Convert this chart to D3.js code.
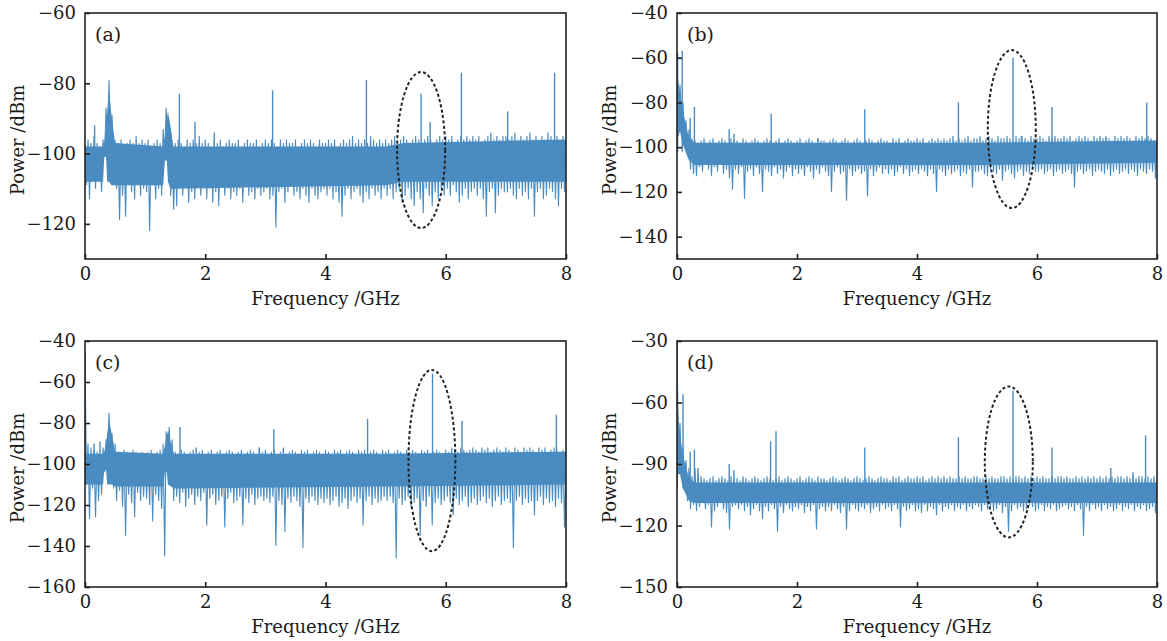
<!DOCTYPE html>
<html><head><meta charset="utf-8">
<script src="https://cdn.jsdelivr.net/npm/d3@7"></script>
<style>
html,body{margin:0;padding:0;background:#fff;}
svg text{font-family:"DejaVu Serif","Liberation Serif",serif;fill:#1a1a1a;}
</style></head>
<body>
<svg id="chart" width="1167" height="641"></svg>
<script>
// ---------------- DATA ----------------
// band top values at f = i*0.05 GHz, band bottom values at f = i*0.05+0.025 GHz
const freqStep = 0.05;
const xTicks = [0, 2, 4, 6, 8];
const panelLabels = ["(a)", "(b)", "(c)", "(d)"];
const yTicksA = [-120, -100, -80, -60];
const yTicksB = [-140, -120, -100, -80, -60, -40];
const yTicksC = [-160, -140, -120, -100, -80, -60, -40];
const yTicksD = [-150, -120, -90, -60, -30];
const yDomainA = [-130, -60];
const yDomainB = [-150, -40];
const yDomainC = [-160, -40];
const yDomainD = [-150, -30];

// dense noise core of each trace: [GHz, top dBm, bottom dBm]
const coreA = [[0,-98,-108],[0.3,-98,-108],[0.32,-97,-101],[0.35,-93,-101],[0.37,-88,-108],[0.40,-82,-108],[0.44,-89,-109],[0.5,-97,-109],[1.3,-98,-109],[1.33,-95,-102],[1.36,-90,-102],[1.38,-88,-108],[1.42,-92,-110],[1.47,-98,-110],[5.0,-98,-109],[5.3,-97,-108],[8,-96,-108]];
const coreB = [[0,-66,-96],[0.05,-76,-93],[0.1,-84,-99],[0.2,-96,-106],[0.3,-98,-108],[5,-98,-108],[8,-97,-107]];
const coreC = [[0,-95,-110],[0.3,-95,-110],[0.32,-94,-103],[0.35,-90,-103],[0.37,-85,-110],[0.40,-79,-110],[0.45,-86,-110],[0.5,-94,-111],[1.3,-95,-111],[1.33,-91,-104],[1.36,-86,-104],[1.38,-84,-110],[1.43,-90,-111],[1.48,-95,-112],[5,-95,-111],[8,-94,-110]];
const coreD = [[0,-58,-95],[0.05,-76,-95],[0.1,-86,-102],[0.2,-97,-108],[0.3,-99,-109],[8,-99,-109]];

const hiA = [
-99,-96,-97,-95,-97,-98,-96,-87,-79,-89,
-96,-97,-96,-98,-97,-96,-97,-95,-97,-96,
-97,-96,-98,-97,-96,-97,-93,-87,-92,-98,
-97,-96,-97,-98,-96,-97,-96,-97,-95,-97,
-96,-97,-98,-96,-97,-96,-98,-97,-96,-97,
-97,-96,-98,-97,-96,-97,-97,-96,-98,-97,
-96,-97,-96,-97,-98,-96,-97,-96,-97,-97,
-96,-98,-97,-96,-97,-96,-97,-98,-96,-97,
-97,-96,-97,-96,-98,-97,-96,-97,-96,-95,
-97,-96,-97,-96,-97,-95,-96,-97,-96,-97,
-96,-97,-96,-95,-97,-96,-95,-96,-97,-96,
-95,-96,-97,-96,-95,-96,-97,-96,-95,-96,
-95,-96,-95,-97,-96,-95,-96,-95,-96,-95,
-96,-95,-97,-96,-95,-94,-96,-95,-96,-95,
-95,-96,-95,-94,-96,-95,-96,-95,-94,-96,
-95,-96,-95,-96,-94,-95,-96,-95,-96,-95,
-97];
const loA = [
-109,-113,-108,-110,-107,-111,-101,-97,-100,-108,
-110,-119,-112,-118,-109,-111,-113,-108,-112,-110,
-111,-122,-109,-113,-110,-112,-101,-98,-112,-116,
-115,-110,-112,-109,-114,-111,-113,-109,-112,-110,
-113,-110,-114,-111,-115,-109,-112,-110,-113,-111,
-112,-110,-114,-109,-112,-111,-113,-110,-112,-111,
-110,-113,-112,-121,-111,-110,-114,-111,-109,-112,
-111,-113,-110,-112,-114,-110,-112,-113,-111,-110,
-112,-110,-113,-111,-114,-118,-112,-110,-113,-111,
-110,-112,-114,-111,-113,-110,-112,-111,-113,-110,
-112,-110,-113,-111,-110,-114,-112,-110,-113,-115,
-111,-113,-117,-110,-112,-115,-111,-113,-110,-112,
-110,-112,-109,-111,-114,-112,-110,-113,-111,-110,
-112,-110,-113,-118,-111,-110,-117,-112,-110,-111,
-111,-110,-112,-113,-110,-112,-111,-113,-110,-118,
-111,-110,-113,-112,-110,-111,-113,-115,-110,-111,
-110];
const spikesA = [[0.16,-92],[1.57,-83],[1.83,-91],[2.15,-94],[3.12,-82],[4.68,-79],[5.59,-83],[5.74,-91],[6.26,-77],[7.03,-88],[7.81,-77]];

const hiB = [
-60,-72,-80,-88,-92,-96,-97,-98,-97,-96,
-98,-97,-96,-98,-97,-96,-97,-98,-96,-97,
-97,-98,-96,-97,-98,-97,-96,-97,-98,-97,
-96,-97,-98,-97,-96,-98,-97,-96,-97,-98,
-97,-96,-98,-97,-96,-97,-98,-96,-97,-97,
-98,-97,-96,-97,-98,-97,-96,-97,-98,-97,
-96,-97,-98,-97,-96,-97,-98,-97,-96,-97,
-97,-98,-96,-97,-96,-98,-97,-96,-97,-97,
-96,-97,-96,-98,-97,-96,-97,-96,-97,-96,
-97,-96,-95,-97,-96,-97,-96,-95,-97,-96,
-96,-95,-97,-96,-95,-96,-97,-95,-96,-96,
-95,-96,-97,-95,-96,-95,-96,-97,-95,-96,
-96,-95,-96,-97,-95,-96,-95,-96,-96,-95,
-96,-95,-97,-96,-95,-96,-95,-96,-97,-95,
-96,-95,-96,-95,-96,-97,-95,-96,-95,-96,
-95,-96,-97,-95,-96,-95,-96,-95,-96,-97,
-98];
const loB = [
-95,-88,-98,-104,-110,-112,-113,-109,-111,-108,
-110,-113,-109,-111,-108,-112,-110,-114,-119,-110,
-112,-109,-123,-111,-110,-113,-109,-112,-120,-110,
-111,-113,-109,-112,-110,-114,-111,-109,-113,-110,
-112,-110,-113,-109,-111,-114,-110,-112,-109,-111,
-113,-120,-111,-109,-112,-111,-124,-110,-113,-111,
-110,-112,-111,-122,-110,-113,-111,-109,-112,-110,
-112,-110,-113,-111,-109,-112,-110,-113,-111,-110,
-112,-110,-111,-113,-110,-112,-120,-110,-111,-113,
-110,-112,-111,-110,-113,-111,-112,-110,-118,-111,
-111,-110,-112,-113,-110,-111,-112,-110,-115,-111,
-110,-112,-114,-111,-110,-113,-111,-112,-110,-111,
-111,-110,-112,-111,-110,-113,-111,-110,-112,-111,
-110,-112,-118,-111,-110,-112,-111,-110,-113,-111,
-110,-111,-112,-110,-113,-111,-110,-112,-111,-110,
-112,-110,-111,-113,-110,-111,-112,-110,-111,-114,
-112];
const spikesB = [[0.01,-58],[0.087,-57],[0.22,-87],[0.29,-82],[0.87,-92],[0.95,-94],[1.57,-85],[2.35,-96],[3.13,-83],[4.69,-80],[5.6,-60],[5.74,-95],[6.25,-82],[7.15,-96],[7.83,-80]];

const hiC = [
-46,-90,-92,-93,-94,-95,-92,-88,-75,-85,
-90,-94,-95,-93,-94,-95,-93,-94,-96,-94,
-95,-94,-93,-95,-94,-93,-90,-84,-82,-88,
-94,-95,-93,-94,-95,-94,-93,-95,-94,-93,
-95,-94,-93,-95,-94,-93,-95,-94,-93,-94,
-95,-94,-93,-95,-94,-93,-94,-95,-92,-94,
-93,-95,-94,-93,-95,-94,-93,-95,-94,-93,
-94,-95,-93,-94,-93,-95,-94,-93,-94,-95,
-93,-94,-95,-93,-94,-93,-95,-94,-93,-94,
-95,-93,-94,-93,-95,-94,-93,-94,-95,-93,
-94,-93,-95,-94,-93,-94,-95,-93,-94,-93,
-94,-95,-93,-94,-93,-95,-94,-93,-94,-95,
-93,-94,-92,-93,-94,-92,-93,-94,-93,-92,
-93,-94,-92,-93,-92,-94,-93,-92,-93,-94,
-92,-93,-94,-92,-93,-94,-92,-93,-92,-93,
-94,-92,-93,-92,-94,-93,-92,-93,-94,-93,
-96];
const loC = [
-110,-127,-112,-126,-118,-115,-104,-98,-96,-112,
-118,-113,-121,-135,-115,-119,-126,-114,-118,-116,
-117,-120,-128,-115,-118,-122,-145,-97,-100,-118,
-116,-119,-114,-121,-117,-115,-120,-116,-118,-114,
-130,-117,-115,-120,-118,-116,-131,-117,-114,-119,
-118,-116,-130,-117,-119,-115,-120,-117,-116,-118,
-117,-119,-116,-140,-118,-120,-133,-117,-119,-116,
-118,-121,-141,-117,-119,-116,-118,-120,-117,-119,
-117,-120,-118,-116,-121,-119,-117,-122,-118,-116,
-119,-117,-130,-118,-116,-120,-117,-119,-118,-116,
-118,-116,-119,-146,-117,-120,-118,-116,-121,-119,
-117,-135,-118,-121,-116,-130,-119,-117,-120,-118,
-116,-119,-125,-117,-120,-118,-116,-121,-119,-117,
-120,-118,-116,-119,-117,-121,-118,-116,-120,-118,
-117,-119,-141,-118,-116,-120,-117,-119,-118,-125,
-118,-116,-120,-117,-119,-118,-121,-117,-119,-131,
-118];
const spikesC = [[0.005,-46],[0.15,-90],[0.25,-89],[1.58,-82],[1.85,-92],[2.9,-92],[3.14,-83],[3.3,-92],[4.7,-78],[5.78,-56],[6.27,-79],[7.84,-76]];

const hiD = [
-32,-70,-82,-88,-92,-96,-92,-95,-96,-97,
-98,-97,-96,-98,-97,-96,-97,-98,-96,-97,
-97,-98,-96,-97,-98,-97,-96,-97,-98,-97,
-96,-97,-98,-97,-96,-98,-97,-96,-97,-98,
-97,-96,-98,-97,-96,-97,-98,-96,-97,-97,
-98,-97,-96,-97,-98,-97,-96,-97,-98,-97,
-96,-97,-98,-97,-96,-97,-98,-97,-96,-97,
-97,-98,-96,-97,-96,-98,-97,-96,-97,-97,
-96,-97,-96,-98,-97,-96,-97,-96,-97,-96,
-97,-96,-97,-97,-96,-97,-96,-97,-97,-96,
-96,-97,-97,-96,-97,-96,-97,-97,-96,-96,
-97,-96,-97,-96,-96,-97,-96,-97,-96,-97,
-96,-97,-96,-97,-97,-96,-97,-96,-96,-97,
-96,-97,-97,-96,-97,-96,-97,-96,-97,-96,
-97,-96,-97,-96,-97,-96,-97,-96,-96,-97,
-96,-97,-96,-97,-96,-96,-97,-96,-97,-96,
-98];
const loD = [
-85,-95,-100,-108,-112,-110,-113,-111,-109,-112,
-110,-121,-113,-111,-109,-112,-114,-122,-111,-110,
-112,-110,-113,-111,-115,-112,-110,-113,-117,-111,
-113,-110,-112,-123,-111,-114,-110,-112,-113,-111,
-112,-110,-114,-111,-113,-110,-122,-112,-111,-113,
-111,-113,-110,-112,-114,-111,-122,-113,-110,-112,
-113,-111,-112,-110,-114,-112,-111,-113,-110,-112,
-111,-113,-110,-112,-121,-111,-113,-112,-110,-113,
-112,-114,-110,-113,-111,-112,-115,-110,-113,-111,
-112,-110,-113,-111,-112,-110,-113,-111,-112,-110,
-111,-113,-110,-112,-111,-113,-112,-110,-114,-111,
-123,-113,-110,-112,-111,-113,-112,-110,-111,-113,
-112,-110,-113,-111,-112,-110,-113,-112,-111,-110,
-112,-111,-113,-110,-112,-125,-111,-113,-110,-112,
-111,-113,-110,-112,-111,-113,-112,-110,-113,-111,
-112,-110,-113,-111,-112,-110,-113,-112,-111,-114,
-112];
const spikesD = [[0.005,-30],[0.1,-56],[0.22,-84],[0.29,-83],[0.35,-92],[0.87,-90],[0.95,-93],[1.56,-79],[1.65,-74],[3.13,-82],[4.69,-77],[5.6,-54],[6.25,-82],[7.23,-92],[7.6,-94],[7.81,-76]];

// dashed ellipses: [centre GHz, centre dBm, half-width GHz, half-height dB]
const ellipseA = [5.59, -99, 0.40, 22.2];
const ellipseB = [5.58, -91.9, 0.40, 35.3];
const ellipseC = [5.77, -98.3, 0.39, 44.2];
const ellipseD = [5.53, -89, 0.40, 36.8];

// ---------------- LAYOUT ----------------
const svg = d3.select("#chart");
const traceColor = "#4a8cc1";
const panels = [
  {lab: panelLabels[0], x0: 85,  x1: 566,  y0: 13,  y1: 259, dom: yDomainA, ticks: yTicksA, core: coreA, hi: hiA, lo: loA, spikes: spikesA, ell: ellipseA},
  {lab: panelLabels[1], x0: 677, x1: 1157, y0: 13,  y1: 259, dom: yDomainB, ticks: yTicksB, core: coreB, hi: hiB, lo: loB, spikes: spikesB, ell: ellipseB},
  {lab: panelLabels[2], x0: 85,  x1: 566,  y0: 341, y1: 587, dom: yDomainC, ticks: yTicksC, core: coreC, hi: hiC, lo: loC, spikes: spikesC, ell: ellipseC},
  {lab: panelLabels[3], x0: 677, x1: 1157, y0: 341, y1: 587, dom: yDomainD, ticks: yTicksD, core: coreD, hi: hiD, lo: loD, spikes: spikesD, ell: ellipseD}
];

panels.forEach((p, k) => {
  const x = d3.scaleLinear().domain([0, 8]).range([p.x0, p.x1]);
  const y = d3.scaleLinear().domain(p.dom).range([p.y1, p.y0]);
  const g = svg.append("g");
  const clipId = "clip" + k;
  svg.append("clipPath").attr("id", clipId).append("rect")
    .attr("x", p.x0).attr("y", p.y0).attr("width", p.x1 - p.x0).attr("height", p.y1 - p.y0);
  const cg = g.append("g").attr("clip-path", `url(#${clipId})`);

  // solid noise core
  const area = d3.area().x(d => x(d[0])).y0(d => y(d[2])).y1(d => y(d[1]));
  cg.append("path").datum(p.core).attr("d", area).attr("fill", traceColor);

  // zig-zag trace
  const pts = [];
  p.hi.forEach((v, i) => {
    pts.push([i * freqStep, v]);
    if (i < p.lo.length) pts.push([i * freqStep + freqStep / 2, p.lo[i]]);
  });
  const line = d3.line().x(d => x(d[0])).y(d => y(d[1]));
  cg.append("path").datum(pts).attr("d", line)
    .attr("fill", "none").attr("stroke", traceColor).attr("stroke-width", 1.1);
  cg.selectAll("line.spike").data(p.spikes).join("line")
    .attr("class", "spike")
    .attr("x1", d => x(d[0])).attr("x2", d => x(d[0]))
    .attr("y1", y(-102)).attr("y2", d => y(d[1]))
    .attr("stroke", traceColor).attr("stroke-width", 1.4);

  // ellipse
  const e = p.ell;
  g.append("ellipse")
    .attr("cx", x(e[0])).attr("cy", y(e[1]))
    .attr("rx", x(e[0] + e[2]) - x(e[0])).attr("ry", y(e[1] - e[3]) - y(e[1]))
    .attr("fill", "none").attr("stroke", "#222").attr("stroke-width", 2).attr("stroke-dasharray", "3,2.4");

  // frame
  g.append("rect").attr("x", p.x0).attr("y", p.y0).attr("width", p.x1 - p.x0).attr("height", p.y1 - p.y0)
    .attr("fill", "none").attr("stroke", "#222").attr("stroke-width", 1.6);

  // axes with inward ticks
  const xAxis = d3.axisBottom(x).tickValues(xTicks).tickSize(-5).tickPadding(8).tickFormat(d3.format("d"));
  const ax = g.append("g").attr("transform", `translate(0,${p.y1})`).call(xAxis);
  const yAxis = d3.axisLeft(y).tickValues(p.ticks).tickSize(-5).tickPadding(9).tickFormat(d => "\u2212" + Math.abs(d));
  const ay = g.append("g").attr("transform", `translate(${p.x0},0)`).call(yAxis);
  [ax, ay].forEach(a => {
    a.select(".domain").remove();
    a.selectAll(".tick line").attr("stroke", "#222").attr("stroke-width", 1.6);
    a.selectAll(".tick text").attr("font-size", 18).attr("font-family", "DejaVu Serif").attr("fill", "#1a1a1a");
  });

  // labels
  g.append("text").attr("x", p.x0 + 10).attr("y", p.y0 + 28).attr("font-size", 19).text(p.lab);
  g.append("text").attr("x", (p.x0 + p.x1) / 2).attr("y", p.y1 + 46).attr("text-anchor", "middle")
    .attr("font-size", 18).text("Frequency /GHz");
  g.append("text").attr("transform", `translate(${p.x0 - 61},${(p.y0 + p.y1) / 2 + 4}) rotate(-90)`)
    .attr("text-anchor", "middle").attr("font-size", 18).text("Power /dBm");
});
</script>
</body></html>
